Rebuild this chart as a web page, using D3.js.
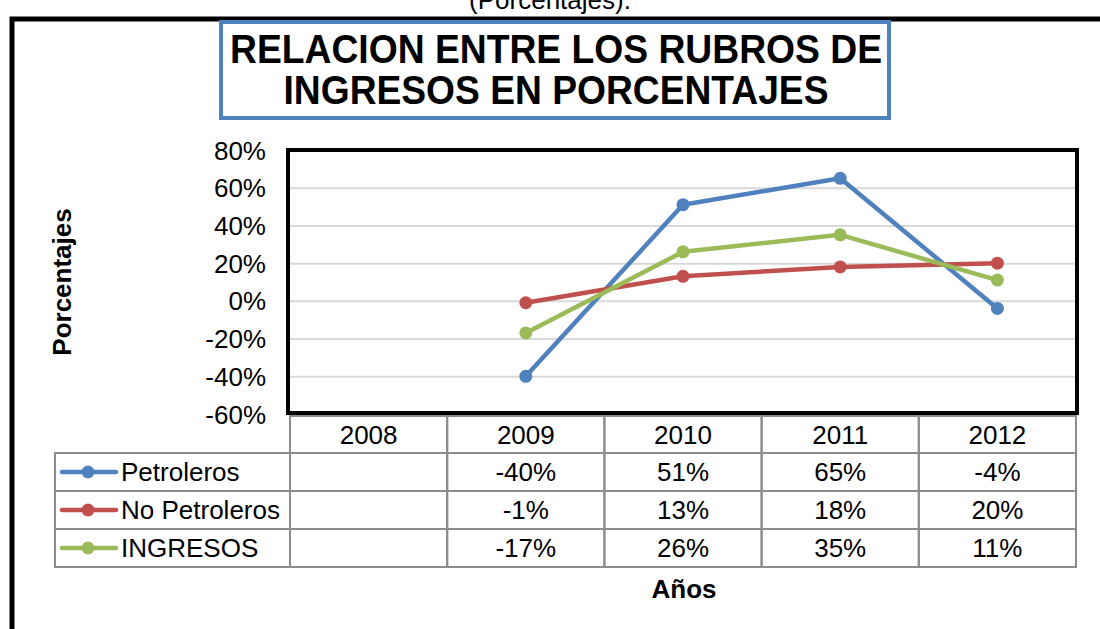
<!DOCTYPE html>
<html>
<head>
<meta charset="utf-8">
<script src="https://cdn.jsdelivr.net/npm/d3@7"></script>
<style>
  body { margin: 0; background: #fff; }
  text { font-family: "Liberation Sans", Arial, sans-serif; }
</style>
</head>
<body>
<svg id="chart" width="1100" height="629"></svg>
<script>
const years = ['2008', '2009', '2010', '2011', '2012'];
const petroleros = [null, -0.40, 0.51, 0.65, -0.04];
const noPetroleros = [null, -0.01, 0.13, 0.18, 0.20];
const ingresos = [null, -0.17, 0.26, 0.35, 0.11];
const yTicks = [-0.6, -0.4, -0.2, 0, 0.2, 0.4, 0.6, 0.8];

const series = [
    { name: 'Petroleros', values: petroleros, color: '#4f81bd' },
    { name: 'No Petroleros', values: noPetroleros, color: '#c0504d' },
    { name: 'INGRESOS', values: ingresos, color: '#9bbb59' }
];

// plain hyphen instead of the unicode minus d3 uses
const pct = v => Math.round(v * 100) + '%';

const svg = d3.select('#chart');

// outer frame, cut off at top/right like the source scan
svg.append('text')
    .attr('x', 550).attr('y', 9)
    .attr('text-anchor', 'middle')
    .style('font-size', '26px')
    .text('(Porcentajes).');
svg.append('path')
    .attr('d', 'M12,640 L12,19 L1110,19')
    .attr('fill', 'none')
    .attr('stroke', '#000')
    .attr('stroke-width', 5);

// title box
svg.append('rect')
    .attr('x', 221).attr('y', 22)
    .attr('width', 668).attr('height', 96)
    .attr('fill', '#fff')
    .attr('stroke', '#4f81bd')
    .attr('stroke-width', 4);
svg.append('text')
    .attr('x', 556).attr('y', 63)
    .attr('text-anchor', 'middle')
    .attr('textLength', 652).attr('lengthAdjust', 'spacingAndGlyphs')
    .style('font-size', '40px').style('font-weight', 'bold')
    .text('RELACION ENTRE LOS RUBROS DE');
svg.append('text')
    .attr('x', 556).attr('y', 104)
    .attr('text-anchor', 'middle')
    .attr('textLength', 545).attr('lengthAdjust', 'spacingAndGlyphs')
    .style('font-size', '40px').style('font-weight', 'bold')
    .text('INGRESOS EN PORCENTAJES');

// scales
const x = d3.scaleBand().domain(years).range([290, 1076]);
const y = d3.scaleLinear().domain([-0.6, 0.8]).range([414, 150]);

// gridlines
svg.append('g')
    .attr('transform', 'translate(288,0)')
    .call(d3.axisRight(y).tickValues(yTicks).tickSize(789).tickFormat(''))
    .call(g => g.select('.domain').remove())
    .call(g => g.selectAll('line').attr('stroke', '#d9d9d9').attr('stroke-width', 2));

// y axis labels
svg.append('g')
    .attr('transform', 'translate(266,0)')
    .call(d3.axisLeft(y).tickValues(yTicks).tickSize(0).tickPadding(0).tickFormat(pct))
    .call(g => g.select('.domain').remove())
    .call(g => g.selectAll('text')
        .style('font-family', '"Liberation Sans", Arial, sans-serif')
        .style('font-size', '26px').attr('fill', '#000').attr('dy', '0.35em'));

svg.append('text')
    .attr('transform', 'translate(71,282) rotate(-90)')
    .attr('text-anchor', 'middle')
    .style('font-size', '26px').style('font-weight', 'bold')
    .text('Porcentajes');

// plot border
svg.append('rect')
    .attr('x', 288).attr('y', 150)
    .attr('width', 789).attr('height', 263)
    .attr('fill', 'none')
    .attr('stroke', '#000')
    .attr('stroke-width', 4);

// lines
const line = d3.line()
    .defined(d => d !== null)
    .x((d, i) => x(years[i]) + x.bandwidth() / 2)
    .y(d => y(d));

series.forEach(s => {
    svg.append('path')
        .datum(s.values)
        .attr('fill', 'none')
        .attr('stroke', s.color)
        .attr('stroke-width', 4.5)
        .attr('stroke-linejoin', 'round')
        .attr('d', line);
    svg.selectAll(null)
        .data(s.values.map((v, i) => ({ v, year: years[i] })).filter(d => d.v !== null))
        .join('circle')
        .attr('cx', d => x(d.year) + x.bandwidth() / 2)
        .attr('cy', d => y(d.v))
        .attr('r', 6.5)
        .attr('fill', s.color);
});

// data table
const rowTop = 416, headH = 37, rowH = 38, legendLeft = 55;
const gridColor = '#8c8c8c';
const table = svg.append('g');

// header cells
years.forEach(yr => {
    table.append('rect')
        .attr('x', x(yr)).attr('y', rowTop)
        .attr('width', x.bandwidth()).attr('height', headH)
        .attr('fill', 'none').attr('stroke', gridColor).attr('stroke-width', 2);
    table.append('text')
        .attr('x', x(yr) + x.bandwidth() / 2).attr('y', rowTop + headH / 2)
        .attr('dy', '0.35em').attr('text-anchor', 'middle')
        .style('font-size', '26px')
        .text(yr);
});

series.forEach((s, r) => {
    const ry = rowTop + headH + r * rowH;
    table.append('rect')
        .attr('x', legendLeft).attr('y', ry)
        .attr('width', 290 - legendLeft).attr('height', rowH)
        .attr('fill', 'none').attr('stroke', gridColor).attr('stroke-width', 2);
    table.append('line')
        .attr('x1', 62).attr('x2', 116)
        .attr('y1', ry + rowH / 2).attr('y2', ry + rowH / 2)
        .attr('stroke', s.color).attr('stroke-width', 4.5).attr('stroke-linecap', 'round');
    table.append('circle')
        .attr('cx', 88).attr('cy', ry + rowH / 2).attr('r', 6.5)
        .attr('fill', s.color);
    table.append('text')
        .attr('x', 121).attr('y', ry + rowH / 2)
        .attr('dy', '0.35em')
        .style('font-size', '26px')
        .text(s.name);

    years.forEach((yr, i) => {
        table.append('rect')
            .attr('x', x(yr)).attr('y', ry)
            .attr('width', x.bandwidth()).attr('height', rowH)
            .attr('fill', 'none').attr('stroke', gridColor).attr('stroke-width', 2);
        if (s.values[i] !== null) {
            table.append('text')
                .attr('x', x(yr) + x.bandwidth() / 2).attr('y', ry + rowH / 2)
                .attr('dy', '0.35em').attr('text-anchor', 'middle')
                .style('font-size', '26px')
                .text(pct(s.values[i]));
        }
    });
});

svg.append('text')
    .attr('x', 684).attr('y', 598)
    .attr('text-anchor', 'middle')
    .style('font-size', '26px').style('font-weight', 'bold')
    .text('Años');
</script>
</body>
</html>
